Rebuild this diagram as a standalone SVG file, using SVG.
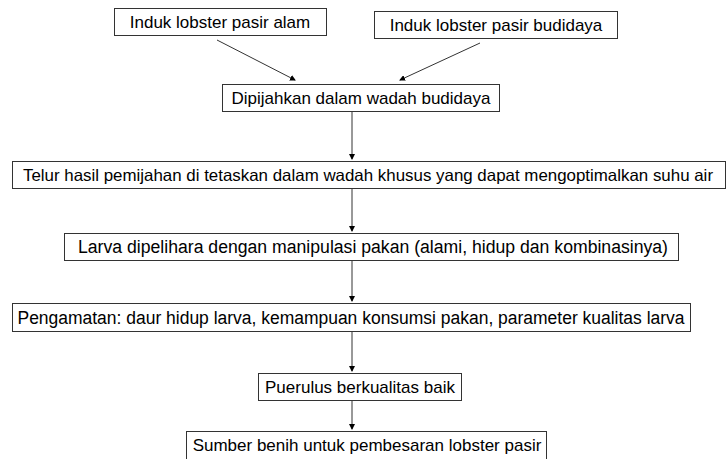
<svg xmlns="http://www.w3.org/2000/svg" width="727" height="459" viewBox="0 0 727 459">
<defs>
<marker id="ah" markerWidth="6" markerHeight="6" refX="5" refY="3" orient="auto" markerUnits="userSpaceOnUse">
<path d="M0,0 L6,3 L0,6 z" fill="#000"/>
</marker>
<style>
.box{fill:#fff;stroke:#333;stroke-width:1}
.t{font-family:"Liberation Sans",Arial,sans-serif;font-size:17px;fill:#000;text-anchor:middle}
.n{font-size:18px}
.s{font-size:16.5px}
.c{stroke:#333;stroke-width:1;fill:none;marker-end:url(#ah)}
</style>
</defs>
<rect width="727" height="459" fill="#fff"/>
<g id="connectors">
<line class="c" x1="217" y1="40" x2="295" y2="80"/>
<line class="c" x1="480" y1="43" x2="400" y2="80"/>
<line class="c" x1="352" y1="111" x2="352" y2="159"/>
<line class="c" x1="352" y1="188" x2="352" y2="231"/>
<line class="c" x1="352" y1="260" x2="352" y2="301"/>
<line class="c" x1="352" y1="331" x2="352" y2="371"/>
<line class="c" x1="352" y1="400" x2="352" y2="429"/>
</g>
<g id="n1"><rect class="box" x="114.5" y="8.5" width="212" height="27"/><text class="t" x="220" y="28">Induk lobster pasir alam</text></g>
<g id="n2"><rect class="box" x="374.5" y="11.5" width="243" height="27"/><text class="t" x="496" y="31">Induk lobster pasir budidaya</text></g>
<g id="n3"><rect class="box" x="222.5" y="84.5" width="277" height="27"/><text class="t" x="361" y="104">Dipijahkan dalam wadah budidaya</text></g>
<g id="n4"><rect class="box" x="12.5" y="161.5" width="713" height="27"/><text class="t s" x="368" y="181" textLength="690" lengthAdjust="spacingAndGlyphs">Telur hasil pemijahan di tetaskan dalam wadah khusus yang dapat mengoptimalkan suhu air</text></g>
<g id="n5"><rect class="box" x="64.5" y="233.5" width="614" height="27"/><text class="t n" x="373" y="253" textLength="590" lengthAdjust="spacingAndGlyphs">Larva  dipelihara dengan manipulasi pakan (alami, hidup dan kombinasinya)</text></g>
<g id="n6"><rect class="box" x="12.5" y="303.5" width="678" height="28"/><text class="t n" x="351" y="324" textLength="667" lengthAdjust="spacingAndGlyphs">Pengamatan: daur hidup larva,  kemampuan konsumsi pakan, parameter kualitas larva</text></g>
<g id="n7"><rect class="box" x="258.5" y="373.5" width="203" height="27"/><text class="t" x="360" y="393">Puerulus berkualitas baik</text></g>
<g id="n8"><rect class="box" x="186.5" y="431.5" width="360" height="28"/><text class="t" x="367" y="451">Sumber benih untuk pembesaran lobster pasir</text></g>
</svg>
